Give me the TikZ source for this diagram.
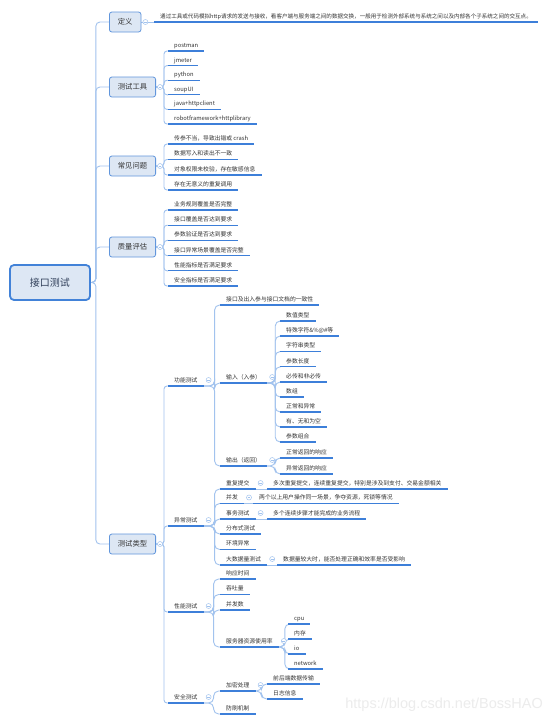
\documentclass[tikz,border=0pt]{standalone}
\usepackage{fontspec}
\setmainfont{Noto Sans CJK SC}
\newfontfamily\wmfont{Liberation Sans}
\usetikzlibrary{backgrounds}
\definecolor{connC}{HTML}{A2C3EE}
\definecolor{ulC}{HTML}{3D7FD9}
\definecolor{boxF}{HTML}{DDE7F4}
\definecolor{boxB}{HTML}{6196DC}
\definecolor{rootB}{HTML}{4282D8}
\definecolor{txtC}{HTML}{333333}
\definecolor{rootT}{HTML}{2E3D58}
\definecolor{wmC}{HTML}{ECECEC}
\begin{document}
\begin{tikzpicture}[x=1pt,y=-1pt,
 conn/.style={draw=connC,line width=0.9pt,rounded corners=3pt},
 curv/.style={draw=connC,line width=0.9pt,rounded corners=5pt},
 leaf/.style={anchor=south west,inner xsep=6pt,inner ysep=2pt,text height=4.5pt,text depth=1.4pt,
   font=\fontsize{5.8}{7}\selectfont,text=txtC,
   append after command={(\tikzlastnode.south west) edge[draw=ulC,line width=1.3pt] (\tikzlastnode.south east)}},
 topic/.style={draw=boxB,fill=boxF,line width=0.8pt,rounded corners=2.5pt,minimum height=20pt,
   inner xsep=8.5pt,font=\fontsize{7.3}{8}\selectfont,text=txtC,anchor=west},
 roottopic/.style={draw=rootB,fill=boxF,line width=1.8pt,rounded corners=4pt,minimum width=80pt,
   minimum height=35pt,font=\fontsize{10}{12}\selectfont,text=rootT},
 tog/.style={circle,draw=connC,fill=white,line width=0.5pt,inner sep=0pt,minimum size=5pt,
   path picture={\draw[connC,line width=0.5pt]([xshift=-1.4pt]path picture bounding box.center)--([xshift=1.4pt]path picture bounding box.center);}}
]
\useasboundingbox (0,0) rectangle (553,724);

% ---------- topics ----------
\node[roottopic] (root) at (50,282.5) {接口测试};
\node[topic] (def)  at (109,22)  {定义};
\node[topic] (tool) at (109,87)  {测试工具};
\node[topic] (prob) at (109,166) {常见问题};
\node[topic] (qual) at (109,247) {质量评估};
\node[topic] (type) at (109,544) {测试类型};

% ---------- 定义 ----------
\node[leaf,font=\fontsize{5.55}{7}\selectfont] (def1) at (154,22) {通过工具或代码模拟http请求的发送与接收，看客户端与服务端之间的数据交换，一般用于检测外部系统与系统之间以及内部各个子系统之间的交互点。};

% ---------- 测试工具 ----------
\node[leaf] (tool1) at (168,51)    {postman};
\node[leaf] (tool2) at (168,65.6)  {jmeter};
\node[leaf] (tool3) at (168,80.2)  {python};
\node[leaf] (tool4) at (168,94.8)  {soupUI};
\node[leaf] (tool5) at (168,109.4) {java+httpclient};
\node[leaf] (tool6) at (168,124)   {robotframework+httplibrary};

% ---------- 常见问题 ----------
\node[leaf] (prob1) at (168,144)   {传参不当，导致出错或 crash};
\node[leaf] (prob2) at (168,159.5) {数据写入和读出不一致};
\node[leaf] (prob3) at (168,175)   {对象权限未校验，存在敏感信息};
\node[leaf] (prob4) at (168,190)   {存在无意义的重复调用};

% ---------- 质量评估 ----------
\node[leaf] (qual1) at (168,210)   {业务规则覆盖是否完整};
\node[leaf] (qual2) at (168,225.2) {接口覆盖是否达到要求};
\node[leaf] (qual3) at (168,240.4) {参数验证是否达到要求};
\node[leaf] (qual4) at (168,255.6) {接口异常场景覆盖是否完整};
\node[leaf] (qual5) at (168,270.8) {性能指标是否满足要求};
\node[leaf] (qual6) at (168,286)   {安全指标是否满足要求};

% ---------- 测试类型 ----------
\node[leaf] (fun) at (168,386) {功能测试};
\node[leaf] (exc) at (168,526) {异常测试};
\node[leaf] (per) at (168,612) {性能测试};
\node[leaf] (sec) at (168,703) {安全测试};

% 功能测试
\node[leaf] (fun1) at (220,305) {接口及出入参与接口文档的一致性};
\node[leaf] (fin)  at (220,383) {输入（入参）};
\node[leaf] (fout) at (220,466) {输出（返回）};
\node[leaf] (in1) at (280,321) {数值类型};
\node[leaf] (in2) at (280,336) {特殊字符\&\%@\#等};
\node[leaf] (in3) at (280,351.5) {字符串类型};
\node[leaf] (in4) at (280,366.8) {参数长度};
\node[leaf] (in5) at (280,382) {必传和非必传};
\node[leaf] (in6) at (280,397) {数组};
\node[leaf] (in7) at (280,412) {正常和异常};
\node[leaf] (in8) at (280,427) {有、无和为空};
\node[leaf] (in9) at (280,442) {参数组合};
\node[leaf] (out1) at (280,458) {正常返回的响应};
\node[leaf] (out2) at (280,474) {异常返回的响应};

% 异常测试
\node[leaf] (ex1) at (220,489) {重复提交};
\node[leaf] (ex2) at (220,503.5) {并发};
\node[leaf] (ex3) at (220,519) {事务测试};
\node[leaf] (ex4) at (220,534) {分布式测试};
\node[leaf] (ex5) at (220,549.5) {环境异常};
\node[leaf,minimum width=43pt] (ex6) at (220,565) {大数据量测试};
\node[leaf] (ex1a) at (267,489) {多次重复提交，连续重复提交，特别是涉及到支付、交易金额相关};
\node[leaf] (ex2a) at (253,503.5) {两个以上用户操作同一场景，争夺资源，死锁等情况};
\node[leaf] (ex3a) at (267,519) {多个连续步骤才能完成的业务流程};
\node[leaf] (ex6a) at (277,565) {数据量较大时，能否处理正确和效率是否受影响};

% 性能测试
\node[leaf] (pf1) at (220,579) {响应时间};
\node[leaf] (pf2) at (220,594.5) {吞吐量};
\node[leaf] (pf3) at (220,610) {并发数};
\node[leaf] (pf4) at (220,647) {服务器资源使用率};
\node[leaf] (res1) at (288,624) {cpu};
\node[leaf] (res2) at (288,639) {内存};
\node[leaf] (res3) at (288,654) {io};
\node[leaf] (res4) at (288,669) {network};

% 安全测试
\node[leaf] (sc1) at (220,691) {加密处理};
\node[leaf] (sc2) at (220,714) {防刷机制};
\node[leaf] (enc1) at (267,684) {前后端数据传输};
\node[leaf] (enc2) at (267,699) {日志信息};

% ---------- collapse toggles ----------
\foreach \b in {def,tool,prob,qual,type}
  \node[tog] (t\b) at ([xshift=4pt]\b.east) {};
\foreach \b in {fun,exc,per,sec,fin,fout,ex1,ex2,ex3,ex6,pf4,sc1}
  \node[tog] (t\b) at ([xshift=5pt,yshift=6pt]\b.south east) {};

% ---------- connectors ----------
\begin{scope}[on background layer]
\fill[white] (0,0) rectangle (553,724);
\foreach \b in {def,tool,prob,qual,type}
  \draw[conn,rounded corners=4pt] (root.east) -- ++(5,0) |- (\b.west);
\draw[conn] (def.east) -- (def1.south west);
\foreach \c in {tool1,tool2,tool3,tool4,tool5,tool6}
  \draw[conn] (tool.east) -- ++(8,0) |- (\c.south west);
\foreach \c in {prob1,prob2,prob3,prob4}
  \draw[conn] (prob.east) -- ++(8,0) |- (\c.south west);
\foreach \c in {qual1,qual2,qual3,qual4,qual5,qual6}
  \draw[conn] (qual.east) -- ++(8,0) |- (\c.south west);
\foreach \c in {fun,exc,per,sec}
  \draw[conn] (type.east) -- ++(8,0) |- (\c.south west);
\foreach \c in {fun1,fin,fout}
  \draw[curv] (fun.south east) -- ++(11,0) |- (\c.south west);
\foreach \c in {in1,in2,in3,in4,in5,in6,in7,in8,in9}
  \draw[curv] (fin.south east) -- ++(8,0) |- (\c.south west);
\foreach \c in {out1,out2}
  \draw[curv] (fout.south east) -- ++(8,0) |- (\c.south west);
\foreach \c in {ex1,ex2,ex3,ex4,ex5,ex6}
  \draw[curv] (exc.south east) -- ++(11,0) |- (\c.south west);
\draw[conn] (ex1.south east) -- (ex1a.south west);
\draw[conn] (ex2.south east) -- (ex2a.south west);
\draw[conn] (ex3.south east) -- (ex3a.south west);
\draw[conn] (ex6.south east) -- (ex6a.south west);
\foreach \c in {pf1,pf2,pf3,pf4}
  \draw[curv] (per.south east) -- ++(10,0) |- (\c.south west);
\foreach \c in {res1,res2,res3,res4}
  \draw[curv] (pf4.south east) -- ++(6,0) |- (\c.south west);
\foreach \c in {sc1,sc2}
  \draw[curv] (sec.south east) -- ++(10,0) |- (\c.south west);
\foreach \c in {enc1,enc2}
  \draw[curv] (sc1.south east) -- ++(6,0) |- (\c.south west);
\end{scope}

% ---------- watermark ----------
\node[anchor=east,inner sep=0pt,font=\wmfont\fontsize{14.5}{16}\selectfont,text=wmC] (wm) at (543,705) {https://blog.csdn.net/BossHAO};
\end{tikzpicture}
\end{document}
